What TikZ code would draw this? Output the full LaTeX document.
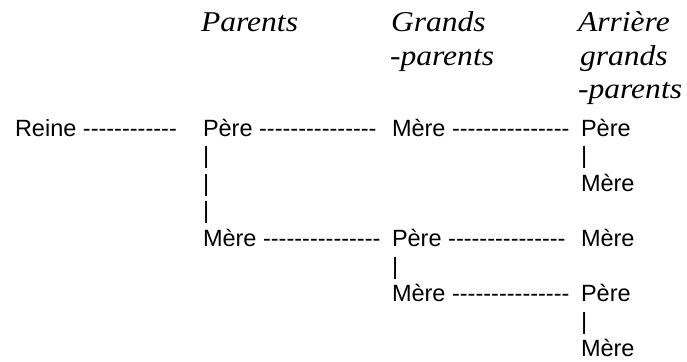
\documentclass[tikz,border=0pt]{standalone}
\usepackage{fontspec}
\newfontfamily\bodyf{Liberation Sans}
\newfontfamily\hdrf[FakeStretch=1.1]{Liberation Serif}
\newcommand\mydashes[1]{\foreach \i in {1,...,#1}{-\kern0pt}}
\tikzset{
  bt/.style={inner sep=0pt, outer sep=0pt, anchor=base west, font=\bodyf\fontsize{23.5}{27}\selectfont},
  hd/.style={inner sep=0pt, outer sep=0pt, anchor=base west, font=\hdrf\itshape\fontsize{28.7}{33}\selectfont},
}
\begin{document}
\begin{tikzpicture}[x=1pt,y=-1pt]
\useasboundingbox (0,0) rectangle (687,361);
% headers
\node[hd] (hP) at (201,32) {Parents};
\node[hd] (hG1) at (391,32) {Grands};
\node[hd] (hG2) at (390,65) {-parents};
\node[hd] (hA1) at (578,32) {Arrière};
\node[hd] (hA2) at (580,65) {grands};
\node[hd] (hA3) at (578,98) {-parents};
% row 1
\node[bt] (reine) at (15,136) {Reine};
\node[bt] (d1) at (reine.base east) {\ \mydashes{12}};
\node[bt] (p1) at (203,136) {Père};
\node[bt] (d2) at (p1.base east) {\ \mydashes{15}};
\node[bt] (gm1) at (392,136) {Mère};
\node[bt] (d3) at (gm1.base east) {\ \mydashes{15}};
\node[bt] (a1) at (581,136) {Père};
% row 2-4
\node[bt] (v1) at (203,163.5) {|};
\node[bt] (v2) at (581,163.5) {|};
\node[bt] (v3) at (203,191) {|};
\node[bt] (a2) at (581,191) {Mère};
\node[bt] (v4) at (203,218.5) {|};
% row 5
\node[bt] (m1) at (203,246.3) {Mère};
\node[bt] (d4) at (m1.base east) {\ \mydashes{15}};
\node[bt] (gp2) at (392,246.3) {Père};
\node[bt] (d5) at (gp2.base east) {\ \mydashes{15}};
\node[bt] (a3) at (581,246.3) {Mère};
% row 6-9
\node[bt] (v5) at (392,274) {|};
\node[bt] (gm2) at (392,301.5) {Mère};
\node[bt] (d6) at (gm2.base east) {\ \mydashes{15}};
\node[bt] (a4) at (581,301.5) {Père};
\node[bt] (v6) at (581,329) {|};
\node[bt] (a5) at (581,356.5) {Mère};
\end{tikzpicture}
\end{document}
